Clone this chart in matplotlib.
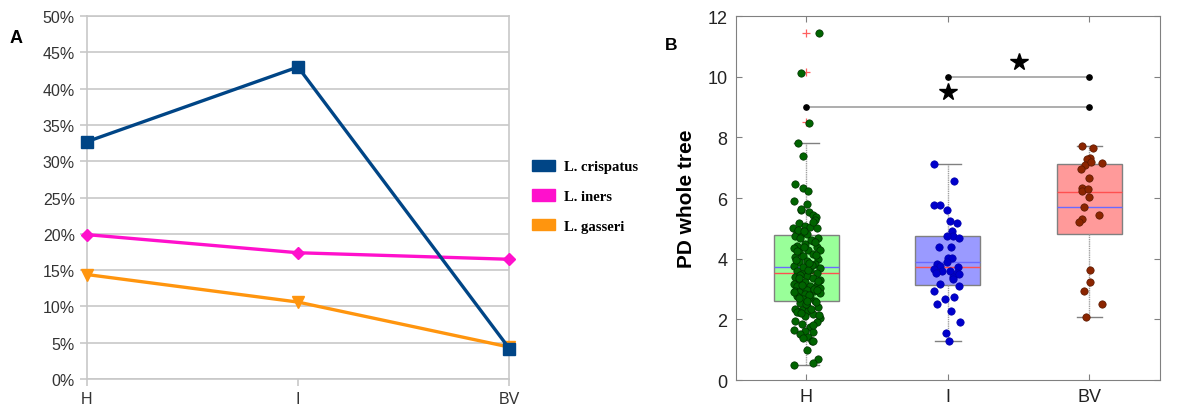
import matplotlib.pyplot as plt
from matplotlib.patches import Patch

# panel A: share of each Lactobacillus species per group
groups = ["H", "I", "BV"]
crispatus = [32.7, 43.0, 4.2]
iners = [19.9, 17.4, 16.5]
gasseri = [14.4, 10.6, 4.4]

# panel B: box statistics (q1, median, q3, whiskers, mean, outliers)
box_stats = [
    dict(q1=2.59, med=3.52, q3=4.77, whislo=0.50, whishi=7.80, mean=3.74, fliers=[11.45, 10.15, 8.50]),
    dict(q1=3.13, med=3.73, q3=4.75, whislo=1.27, whishi=7.13, mean=3.90, fliers=[]),
    dict(q1=4.82, med=6.21, q3=7.12, whislo=2.09, whishi=7.72, mean=5.70, fliers=[]),
]

# individual samples: horizontal offset from the group centre, PD value
h_dx = [0.087, -0.037, 0.021, -0.063, -0.021, -0.080, -0.026, 0.012, -0.090, 0.007,
        -0.037, 0.021, 0.049, 0.068, 0.061, -0.056, -0.009, 0.026, 0.073, -0.096,
        -0.068, -0.026, 0.002, -0.080, -0.044, 0.084, 0.049, -0.009, -0.068, 0.073,
        -0.090, 0.014, 0.096, -0.049, 0.049, -0.021, -0.080, 0.084, 0.002, -0.056,
        0.061, -0.090, -0.021, 0.096, 0.026, -0.068, 0.073, -0.033, 0.002, -0.080,
        0.049, 0.096, -0.049, -0.009, -0.090, 0.073, 0.026, -0.068, -0.026, 0.096,
        0.002, -0.080, 0.054, -0.049, -0.009, 0.096, -0.068, 0.026, -0.021, 0.061,
        -0.044, 0.002, 0.084, -0.080, -0.033, 0.014, -0.056, 0.049, -0.009, 0.096,
        -0.080, 0.073, -0.033, 0.026, -0.090, -0.009, 0.049, -0.044, 0.014, -0.026,
        0.037, 0.049, 0.002, 0.084, 0.044, -0.087,
        -0.060, 0.030, -0.015, 0.065, -0.075, 0.040, 0.010, -0.045, 0.080, -0.030,
        0.055, -0.085, 0.020, -0.055, 0.070, -0.005, 0.035, -0.070, 0.090, -0.040,
        0.045, -0.020, 0.060, -0.065, 0.015, -0.050, 0.075, 0.005, -0.035, 0.050]
h_y = [11.43, 10.13, 8.46, 7.81, 7.37, 6.47, 6.33, 6.23, 5.91, 5.80,
       5.60, 5.53, 5.45, 5.37, 5.28, 5.18, 5.09, 5.04, 5.01, 5.01,
       4.87, 4.85, 4.82, 4.74, 4.68, 4.68, 4.57, 4.49, 4.43, 4.38,
       4.35, 4.30, 4.27, 4.21, 4.16, 4.10, 4.05, 3.99, 3.94, 3.88,
       3.83, 3.77, 3.72, 3.69, 3.64, 3.58, 3.53, 3.50, 3.44, 3.39,
       3.36, 3.31, 3.28, 3.22, 3.17, 3.14, 3.11, 3.09, 3.05, 3.03,
       2.98, 2.95, 2.92, 2.89, 2.84, 2.87, 2.78, 2.73, 2.67, 2.62,
       2.54, 2.45, 2.40, 2.34, 2.32, 2.29, 2.23, 2.18, 2.10, 2.04,
       1.96, 1.90, 1.85, 1.74, 1.66, 1.63, 1.57, 1.52, 1.41, 1.38,
       1.30, 1.27, 1.00, 0.69, 0.55, 0.50,
       4.95, 4.62, 4.40, 4.12, 3.96, 3.80, 3.62, 3.47, 3.25, 3.12,
       3.00, 2.90, 2.80, 2.70, 2.58, 2.50, 2.35, 2.25, 2.15, 5.65,
       5.20, 4.90, 4.55, 4.25, 3.85, 3.35, 2.96, 2.62, 2.20, 1.80]
i_dx = [-0.101, 0.047, -0.096, -0.058, -0.007, 0.012, 0.063, 0.028, 0.035, -0.007,
        0.080, -0.066, 0.019, 0.000, 0.030, -0.005, -0.077, -0.054, 0.070, -0.096,
        -0.042, 0.016, -0.082, 0.063, 0.037, 0.080, 0.035, -0.054, 0.080, -0.096,
        0.047, -0.019, -0.077, 0.019, 0.089, -0.014, 0.005]
i_y = [7.13, 6.56, 5.76, 5.76, 5.59, 5.24, 5.19, 4.91, 4.76, 4.74,
       4.67, 4.39, 4.39, 4.03, 4.03, 3.88, 3.81, 3.77, 3.74, 3.66,
       3.59, 3.59, 3.53, 3.53, 3.41, 3.49, 3.32, 3.15, 3.11, 2.95,
       2.75, 2.67, 2.49, 2.28, 1.90, 1.56, 1.27]
bv_dx = [-0.049, 0.028, 0.007, -0.019, 0.091, -0.030, -0.056, 0.000, -0.054, -0.049,
         0.000, -0.037, 0.070, -0.049, -0.075, 0.007, 0.007, -0.037, 0.091, -0.021,
         0.012, -0.010]
bv_y = [7.72, 7.65, 7.32, 7.27, 7.15, 7.10, 6.96, 6.66, 6.34, 6.23,
        6.04, 5.72, 5.43, 5.31, 5.21, 3.64, 3.23, 2.92, 2.51, 2.09,
        7.20, 6.30]

# pairwise comparisons: (group a, group b, bar height, star position)
sig_pairs = [(1, 3, 9.0, (2.0, 9.5)), (2, 3, 10.0, (2.5, 10.5))]

fig = plt.figure(figsize=(11.93, 4.10), dpi=100)
plt.rcParams['font.family'] = ['Liberation Sans', 'DejaVu Sans']

# ---------------- panel A ----------------
ax1 = fig.add_axes([0.0727, 0.0732, 0.3542, 0.8848])
x = range(len(groups))
ax1.plot(x, crispatus, color="#004586", lw=2.4, marker="s", ms=8.5, clip_on=False, zorder=4)
ax1.plot(x, iners, color="#ff10cc", lw=2.4, marker="D", ms=6, clip_on=False, zorder=3)
ax1.plot(x, gasseri, color="#ff950e", lw=2.4, marker="v", ms=9, clip_on=False, zorder=3)
ax1.set_xlim(0, 2)
ax1.set_ylim(0, 50)
ax1.set_yticks(range(0, 51, 5))
ax1.set_yticklabels([f"{v}%" for v in range(0, 51, 5)])
ax1.set_xticks(list(x))
ax1.set_xticklabels(groups)
ax1.grid(axis="y", color="#c8c8c8", lw=1.2)
ax1.set_axisbelow(True)
for s in ax1.spines.values():
    s.set_color("#c8c8c8")
    s.set_linewidth(1.2)
ax1.tick_params(colors="#c8c8c8", labelcolor="#333333", labelsize=11.5, length=5, width=1.2)
ax1.tick_params(axis="x", pad=4)

handles = [Patch(facecolor=c, edgecolor=c) for c in ("#004586", "#ff10cc", "#ff950e")]
fig.legend(handles, ["L. crispatus", "L. iners", "L. gasseri"],
           loc="upper left", bbox_to_anchor=(0.435, 0.64), frameon=False,
           prop=dict(family="Liberation Serif", weight="bold", size=10.5),
           handlelength=1.6, handleheight=0.8, labelspacing=1.1, handletextpad=0.6)

fig.text(0.008, 0.895, "A", fontsize=13, fontweight="bold")

# ---------------- panel B ----------------
ax2 = fig.add_axes([0.6167, 0.0707, 0.3556, 0.8878])
for st in box_stats:
    st["cilo"] = st["med"]
    st["cihi"] = st["med"]
face = ["#99ff99", "#9a9aff", "#ff9a9a"]
bp = ax2.bxp(box_stats, positions=[1, 2, 3], widths=0.46, showmeans=True, meanline=True,
             patch_artist=True, showfliers=True,
             boxprops=dict(edgecolor="#808080", lw=1.0),
             whiskerprops=dict(color="#a0a0a0", lw=1.0, ls=(0, (1, 0.6))),
             capprops=dict(color="#808080", lw=1.0),
             medianprops=dict(color="#ff5050", lw=1.0),
             meanprops=dict(color="#6a6aff", lw=1.0, ls="-"),
             flierprops=dict(marker="+", markeredgecolor="#ff6060", markersize=6, mew=0.9))
for patch, c in zip(bp["boxes"], face):
    patch.set_facecolor(c)
for cap in bp["caps"]:
    xd = cap.get_xdata()
    mid = (xd[0] + xd[1]) / 2
    cap.set_xdata([mid - 0.09, mid + 0.09])

ax2.scatter([1 + d for d in h_dx], h_y, s=28, color="#006400", edgecolor="#003000", lw=0.5, zorder=5)
ax2.scatter([2 + d for d in i_dx], i_y, s=28, color="#0000cc", edgecolor="#0000aa", lw=0.5, zorder=5)
ax2.scatter([3 + d for d in bv_dx], bv_y, s=28, color="#8b2500", edgecolor="#5a1800", lw=0.5, zorder=5)

for a, b, h, (sx, sy) in sig_pairs:
    ax2.plot([a, b], [h, h], color="#a0a0a0", lw=1.2, zorder=2)
    ax2.plot([a, b], [h, h], "o", color="black", ms=3.8, zorder=6)
    ax2.plot(sx, sy, marker="*", color="black", ms=13, zorder=6)

ax2.set_xlim(0.5, 3.5)
ax2.set_ylim(0, 12)
ax2.set_yticks(range(0, 13, 2))
ax2.set_xticks([1, 2, 3])
ax2.set_xticklabels(groups)
ax2.tick_params(direction="in", top=True, right=True, length=4, color="#808080",
                labelsize=13, labelcolor="#222222", pad=6)
for s in ax2.spines.values():
    s.set_color("#808080")
ax2.set_ylabel("PD whole tree", fontsize=15, fontweight="bold", labelpad=8)

fig.text(0.557, 0.878, "B", fontsize=12.5, fontweight="bold")

fig.savefig("out.png", dpi=100)
